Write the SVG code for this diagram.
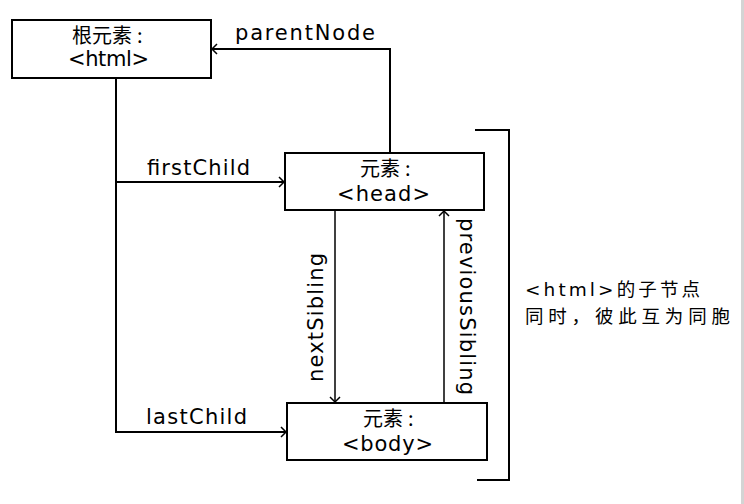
<svg xmlns="http://www.w3.org/2000/svg" width="744" height="504" viewBox="0 0 744 504">
<defs>
<style>
.box{fill:#fff;stroke:#000;stroke-width:2}
.ln{fill:none;stroke:#000;stroke-width:2}
.thin{fill:none;stroke:#000;stroke-width:1.5}
.t{font-family:"DejaVu Sans","Noto Sans CJK SC",sans-serif;font-size:21px;fill:#000}
.c{font-family:"Noto Sans CJK SC","DejaVu Sans",sans-serif;font-size:20px;fill:#000}
.n{font-family:"DejaVu Sans","Noto Sans CJK SC",sans-serif;font-size:18.5px;fill:#000}
</style>
<marker id="arr" markerUnits="userSpaceOnUse" markerWidth="14" markerHeight="14" refX="7" refY="7" orient="auto">
<path d="M2,2 L7,7 L2,12" fill="none" stroke="#000" stroke-width="1.5"/>
</marker>
</defs>
<rect x="0" y="0" width="744" height="504" fill="#fff"/>
<rect x="741" y="0" width="3" height="504" fill="#d4d4d4"/>
<g id="connectors">
<path class="ln" d="M390,153 V49 H212" marker-end="url(#arr)"/>
<path class="ln" d="M116,78 V432 H286" marker-end="url(#arr)"/>
<path class="ln" d="M116,182 H284" marker-end="url(#arr)"/>
<path class="thin" d="M335,210 V402" marker-end="url(#arr)"/>
<path class="thin" d="M444,403 V211" marker-end="url(#arr)"/>
<text class="t" x="235" y="40" textLength="140" lengthAdjust="spacing">parentNode</text>
<text class="t" x="147" y="175" textLength="103" lengthAdjust="spacing">firstChild</text>
<text class="t" x="146" y="424" textLength="101" lengthAdjust="spacing">lastChild</text>
<text class="t" transform="translate(323,382) rotate(-90)" x="0" y="0" textLength="129" lengthAdjust="spacing">nextSibling</text>
<text class="t" transform="translate(460,218) rotate(90)" x="0" y="0" textLength="177" lengthAdjust="spacing">previousSibling</text>
</g>
<g id="root">
<rect class="box" x="12" y="20" width="199" height="58"/>
<text class="c" x="72" y="43">根元素<tspan dx="5">:</tspan></text>
<text class="t" x="68" y="66" textLength="81" lengthAdjust="spacing">&lt;html&gt;</text>
</g>
<g id="head">
<rect class="box" x="285" y="153" width="199" height="57"/>
<text class="c" x="360" y="176">元素<tspan dx="5">:</tspan></text>
<text class="t" x="337" y="201" textLength="93" lengthAdjust="spacing">&lt;head&gt;</text>
</g>
<g id="body">
<rect class="box" x="287" y="403" width="200" height="57"/>
<text class="c" x="363" y="426">元素<tspan dx="5">:</tspan></text>
<text class="t" x="342" y="451" textLength="91" lengthAdjust="spacing">&lt;body&gt;</text>
</g>
<g id="siblings">
<path class="ln" d="M475,130 H509 V480 H477"/>
<text class="n" x="525" y="296" textLength="175" lengthAdjust="spacing">&lt;html&gt;的子节点</text>
<text class="n" x="525" y="323" textLength="205" lengthAdjust="spacing">同时，彼此互为同胞</text>
</g>
</svg>
